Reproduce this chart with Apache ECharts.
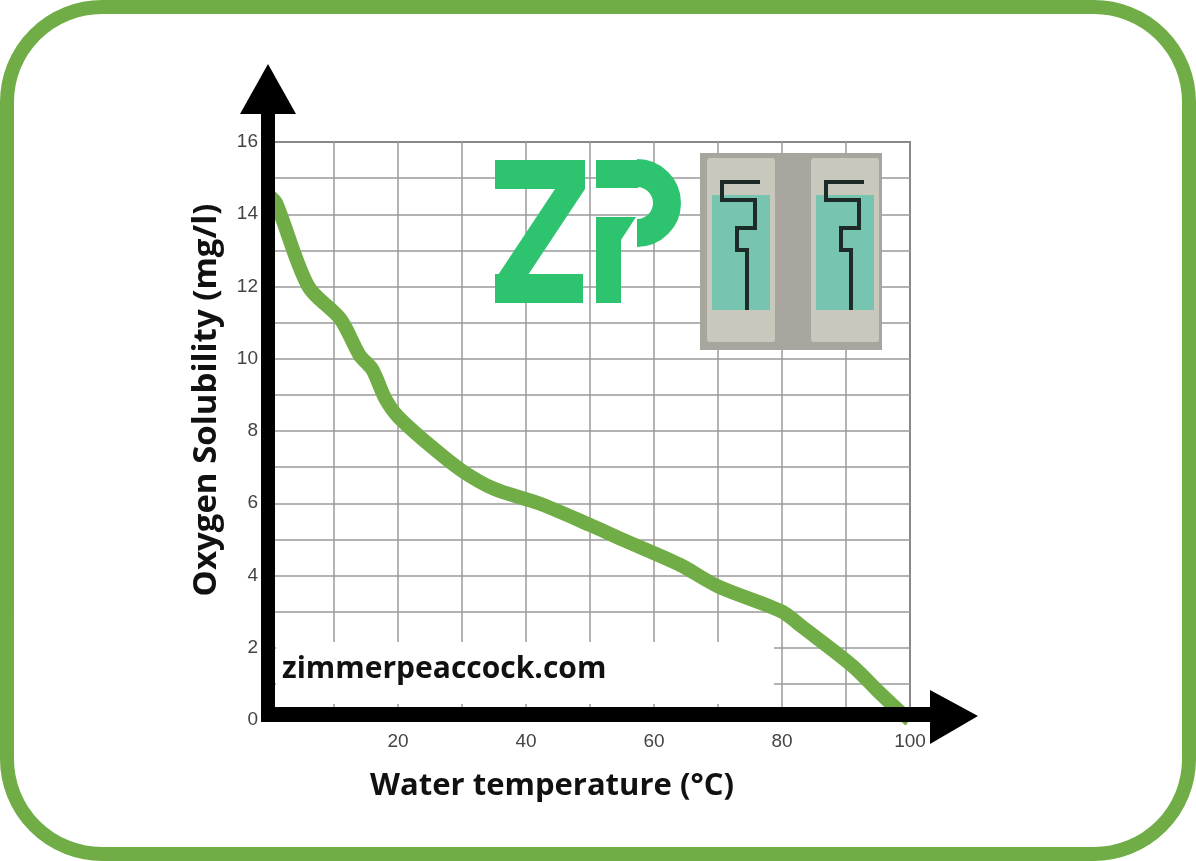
<!DOCTYPE html>
<html>
<head>
<meta charset="utf-8">
<script src="https://cdn.jsdelivr.net/npm/echarts@6/dist/echarts.min.js"></script>
<style>html,body{margin:0;padding:0;background:#fff}#chart{width:1196px;height:861px}</style>
</head>
<body>
<div id="chart"></div>
<script>
var temperature = [0, 1, 6, 11, 14, 16, 18, 20, 25, 30, 35, 42, 50, 55, 64, 70, 80, 83, 91, 95, 98, 100];
var solubility = [14.5, 14.3, 12.0, 11.1, 10.1, 9.7, 8.9, 8.4, 7.6, 6.9, 6.4, 6.0, 5.4, 5.0, 4.3, 3.7, 3.0, 2.6, 1.5, 0.8, 0.3, 0];
var yTickLabels = ['0', '2', '4', '6', '8', '10', '12', '14', '16'];
var xTickLabels = ['20', '40', '60', '80', '100'];

var chart = echarts.init(document.getElementById('chart'));
var green = '#70ad47';
var zp = '#2ec46f';

var points = temperature.map(function (t, i) { return [t, solubility[i]]; });

var option = {
    animation: false,
    grid: {left: 270, right: 286, top: 142, bottom: 141, show: true, borderColor: '#222', borderWidth: 1.5},
    xAxis: {
        type: 'value', min: 0, max: 100, interval: 10,
        axisLine: {show: false}, axisTick: {show: false},
        splitLine: {lineStyle: {color: '#9a9a9a', width: 1.5}},
        axisLabel: {
            color: '#444', fontSize: 19, fontFamily: 'Liberation Sans', margin: 12,
            formatter: function (v) { return xTickLabels.indexOf(String(v)) >= 0 ? v : ''; }
        }
    },
    yAxis: {
        type: 'value', min: 0, max: 16, interval: 1,
        axisLine: {show: false}, axisTick: {show: false},
        splitLine: {lineStyle: {color: '#9a9a9a', width: 1.5}},
        axisLabel: {
            color: '#444', fontSize: 19, fontFamily: 'Liberation Sans', margin: 12,
            formatter: function (v) { return yTickLabels.indexOf(String(v)) >= 0 ? v : ''; }
        }
    },
    series: [{
        type: 'line', data: points, smooth: 0.3, symbol: 'none', z: 3,
        lineStyle: {color: green, width: 14}
    }],
    graphic: [
        // white box behind the website text
        {type: 'rect', z: 2, shape: {x: 276, y: 642, width: 498, height: 62}, style: {fill: '#fff'}},
        {type: 'text', z: 5, left: 282, top: 654, style: {text: 'zimmerpeaccock.com', font: 'bold 30px "Open Sans"', fill: '#111'}},
        // axes arrows
        {type: 'rect', z: 6, shape: {x: 261, y: 110, width: 14, height: 612}, style: {fill: '#000'}},
        {type: 'polygon', z: 6, shape: {points: [[268, 64], [240, 114], [296, 114]]}, style: {fill: '#000'}},
        {type: 'rect', z: 6, shape: {x: 261, y: 707, width: 676, height: 15}, style: {fill: '#000'}},
        {type: 'polygon', z: 6, shape: {points: [[978, 716], [930, 690], [930, 744]]}, style: {fill: '#000'}},
        // axis titles
        {type: 'text', z: 6, x: 207, y: 400, rotation: Math.PI / 2,
            style: {text: 'Oxygen Solubility (mg/l)', font: 'bold 33px "Open Sans"', fill: '#111', align: 'center', verticalAlign: 'middle'}},
        {type: 'text', z: 6, x: 552, y: 786,
            style: {text: 'Water temperature (°C)', font: 'bold 31px "Open Sans"', fill: '#111', align: 'center', verticalAlign: 'middle'}},
        // ZP logo
        {type: 'rect', z: 5, shape: {x: 495, y: 160, width: 90, height: 29}, style: {fill: zp}},
        {type: 'polygon', z: 5, shape: {points: [[555, 189], [585, 189], [528, 275], [498, 275]]}, style: {fill: zp}},
        {type: 'rect', z: 5, shape: {x: 495, y: 274, width: 88, height: 29}, style: {fill: zp}},
        {type: 'arc', z: 5, shape: {cx: 637, cy: 203, r: 30, startAngle: -Math.PI / 2, endAngle: Math.PI / 2},
            style: {stroke: zp, lineWidth: 28, fill: null}},
        {type: 'rect', z: 5, shape: {x: 596, y: 160, width: 42, height: 28}, style: {fill: zp}},
        {type: 'polygon', z: 5, shape: {points: [[596, 217], [636, 217], [621, 240], [621, 303], [596, 303]]}, style: {fill: zp}},
        // sensor photo
        {type: 'rect', z: 5, shape: {x: 700, y: 153, width: 182, height: 197}, style: {fill: '#a8a49e'}},
        {type: 'rect', z: 6, shape: {x: 707, y: 158, width: 68, height: 184, r: 3}, style: {fill: '#c9c8bd'}},
        {type: 'rect', z: 6, shape: {x: 811, y: 158, width: 68, height: 184, r: 3}, style: {fill: '#c9c8bd'}},
        {type: 'rect', z: 7, shape: {x: 712, y: 195, width: 58, height: 115}, style: {fill: '#77c4b0'}},
        {type: 'rect', z: 7, shape: {x: 816, y: 195, width: 58, height: 115}, style: {fill: '#77c4b0'}},
        {type: 'polyline', z: 8, shape: {points: [[760, 182], [722, 182], [722, 200], [755, 200], [755, 228], [737, 228], [737, 250], [747, 250], [747, 310]]},
            style: {stroke: '#1d2b28', lineWidth: 4, fill: null}},
        {type: 'polyline', z: 8, shape: {points: [[864, 182], [826, 182], [826, 200], [859, 200], [859, 228], [841, 228], [841, 250], [851, 250], [851, 310]]},
            style: {stroke: '#1d2b28', lineWidth: 4, fill: null}},
        // green rounded frame
        {type: 'rect', z: 10, shape: {x: 7, y: 7, width: 1182, height: 847, r: 95}, style: {fill: null, stroke: green, lineWidth: 14}}
    ]
};

chart.setOption(option);
</script>
</body>
</html>
